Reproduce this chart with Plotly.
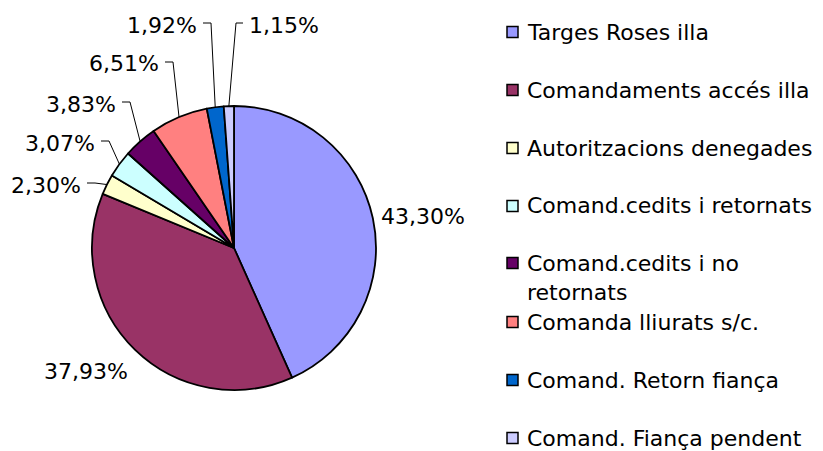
import math
import plotly.graph_objects as go

categories = [
    "Targes Roses illa",
    "Comandaments accés illa",
    "Autoritzacions denegades",
    "Comand.cedits i retornats",
    "Comand.cedits i no retornats",
    "Comanda lliurats s/c.",
    "Comand. Retorn fiança",
    "Comand. Fiança pendent",
]
values = [43.30, 37.93, 2.30, 3.07, 3.83, 6.51, 1.92, 1.15]
colors = ["#9999FF", "#993366", "#FFFFCC", "#CCFFFF", "#660066", "#FF8080", "#0066CC", "#CCCCFF"]
legend_labels = [
    "Targes Roses illa",
    "Comandaments accés illa",
    "Autoritzacions denegades",
    "Comand.cedits i retornats",
    "Comand.cedits i no<br>retornats",
    "Comanda lliurats s/c.",
    "Comand. Retorn fiança",
    "Comand. Fiança pendent",
]

W, H = 823, 451
OFF = 8  # page body margin
CX, CY, R = 234, 248, 142  # pie centre / radius in page pixels (layout)
FONT = "DejaVu Sans"

def px(x):
    return (x - OFF) / W

def py(y):
    return 1 - (y - OFF) / H

fig = go.Figure(
    go.Pie(
        labels=categories,
        values=values,
        sort=False,
        direction="clockwise",
        rotation=0,
        textinfo="none",
        hoverinfo="label+percent",
        marker=dict(colors=colors, line=dict(color="black", width=1.8)),
        domain=dict(x=[px(CX - R), px(CX + R)], y=[py(CY + R), py(CY - R)]),
        showlegend=False,
    )
)

# label placement (layout): (text x, text y, anchor, has_leader)
label_pos = [
    (379, 216, "left", False),
    (130, 371, "right", False),
    (83, 185, "right", True),
    (97, 143, "right", True),
    (118, 104, "right", True),
    (161, 64, "right", True),
    (199, 25, "right", True),
    (247, 25, "left", True),
]

total = sum(values)
annotations = []
shapes = []
cum = 0.0
for v, (tx, ty, anchor, leader) in zip(values, label_pos):
    mid = (cum + v / 2) / total
    cum += v
    theta = 2 * math.pi * mid
    ex = CX + R * math.sin(theta)
    ey = CY - R * math.cos(theta)
    text = f"{v:.2f}".replace(".", ",") + "%"
    annotations.append(dict(
        x=px(tx), y=py(ty), xref="paper", yref="paper", text=text,
        showarrow=False, xanchor=anchor, yanchor="middle",
        font=dict(family=FONT, size=22, color="black"),
    ))
    if leader:
        if anchor == "right":
            x0, x1 = tx + 4, tx + 12
        else:
            x0, x1 = tx - 4, tx - 11
        ly = ty - 2
        shapes.append(dict(
            type="path", xref="paper", yref="paper",
            path=f"M {px(x0)} {py(ly)} L {px(x1)} {py(ly)} L {px(ex)} {py(ey)}",
            line=dict(color="black", width=1),
        ))

# custom legend
leg_y = [32, 90, 148, 206, 263, 322, 380, 438]
for lbl, col, yy in zip(legend_labels, colors, leg_y):
    shapes.append(dict(
        type="rect", xref="paper", yref="paper",
        x0=px(507), x1=px(518), y0=py(yy + 5.5), y1=py(yy - 5.5),
        fillcolor=col, line=dict(color="black", width=1.5),
    ))
    two = "<br>" in lbl
    annotations.append(dict(
        x=px(525), y=py(yy - 14) if two else py(yy), xref="paper", yref="paper",
        text=lbl, showarrow=False, xanchor="left",
        yanchor="top" if two else "middle", align="left",
        font=dict(family=FONT, size=22, color="black"),
    ))

fig.update_layout(
    width=W, height=H,
    margin=dict(l=0, r=0, t=0, b=0),
    paper_bgcolor="white", plot_bgcolor="white",
    annotations=annotations, shapes=shapes,
    showlegend=False,
)

fig.write_html("out.html")
